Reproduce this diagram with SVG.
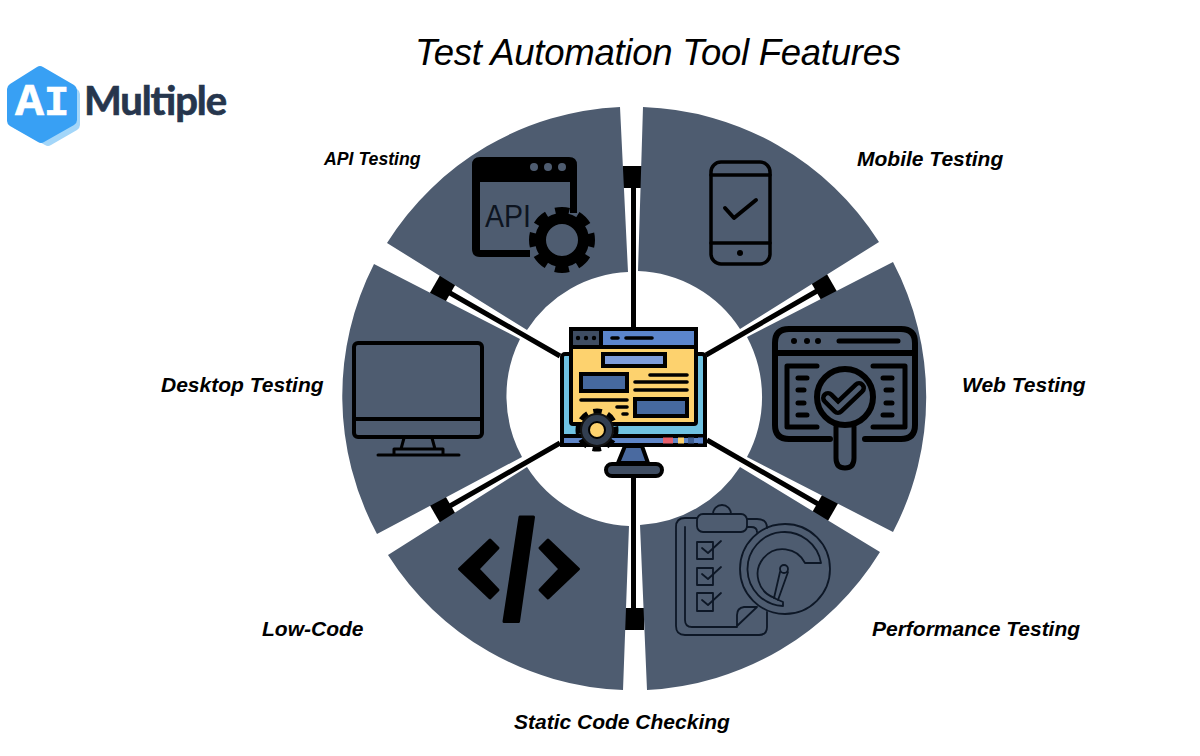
<svg xmlns="http://www.w3.org/2000/svg" width="1200" height="756" viewBox="0 0 1200 756">
<style>
.seg{fill:#4e5c70}
.lab{font-family:"Liberation Sans",Arial,sans-serif;font-weight:700;font-style:italic;font-size:21px;fill:#000}
.ic{fill:none;stroke:#000;stroke-linecap:round;stroke-linejoin:round}
.thin{fill:none;stroke:#0d1726;stroke-width:1.8;stroke-linecap:round;stroke-linejoin:round}
.spoke{stroke:#000;stroke-width:5;fill:none}
.k{fill:#000}
.kr{fill:#000;stroke:#000;stroke-width:3;stroke-linejoin:round}
.cl{fill:none;stroke:#000;stroke-width:3.6;stroke-linecap:round}
.cb{stroke:#000;stroke-width:4}
</style>
<rect width="1200" height="756" fill="#fff"/>
<text x="415" y="65" font-family="'Liberation Sans',Arial,sans-serif" font-style="italic" font-size="36.500" fill="#000" textLength="486">Test Automation Tool Features</text>

<g id="logo">
<path d="M40 68 L77 89 Q80 91 80 94 L80 125 Q80 128 77 130 L51 145 Q48 147 45 145 L14 128 Z" fill="#a3d6f9"/>
<path d="M37 67 Q40 65 43 67 L74 85 Q77 87 77 90 L77 120 Q77 123 74 125 L44 142 Q41 144 38 142 L10 126 Q7 124 7 121 L7 89 Q7 86 10 84 Z" fill="#38a0f4"/>
<text x="15" y="115" font-family="'Open Sans','Liberation Sans',sans-serif" font-weight="700" font-size="42" fill="#fff" stroke="#fff" stroke-width="0.6">A<tspan font-family="'Liberation Mono',monospace" font-size="42">I</tspan></text>
<text x="84" y="115" font-family="Lato,'Liberation Sans',sans-serif" font-weight="700" font-size="40" fill="#26364d" stroke="#26364d" stroke-width="0.7" textLength="143">Multiple</text>
</g>

<g id="connectors">
<path class="spoke" d="M633.500 188V330M633.500 476V610M824 287L706 355M443 289L560 356M443 510L560 443M825 508L707 440"/>
<rect class="k" x="622.500" y="166" width="20" height="22"/>
<rect class="k" x="625" y="608" width="19" height="22"/>
<rect class="k" x="-9" y="-11.500" width="18" height="23" transform="translate(824 287) rotate(-30)"/>
<rect class="k" x="-9" y="-11.500" width="18" height="23" transform="translate(442.500 289) rotate(30)"/>
<rect class="k" x="-9" y="-11.500" width="18" height="23" transform="translate(443 510) rotate(-30)"/>
<rect class="k" x="-9" y="-11.500" width="18" height="23" transform="translate(825 508) rotate(30)"/>
</g>

<g id="node-api">
<path class="seg" d="M620 107 A291 291 0 0 0 387 243 L527 330 A127 127 0 0 1 628 272 Z"/>
<path class="k" d="M480 157 H569 Q577 157 577 165 V213 L570 213 V182 H480 V250 H530 V257 H480 Q472 257 472 249 V165 Q472 157 480 157 Z"/>
<circle cx="534" cy="167" r="4" class="seg"/><circle cx="548" cy="167" r="4" class="seg"/><circle cx="562" cy="167" r="4" class="seg"/>
<text x="485" y="227" font-family="'Liberation Sans',sans-serif" font-size="32" fill="#0d1420" textLength="46" lengthAdjust="spacingAndGlyphs">API</text>
<circle cx="562" cy="240" r="21.500" fill="none" stroke="#000" stroke-width="11"/>
<circle cx="562" cy="240" r="29.500" fill="none" stroke="#000" stroke-width="7" stroke-dasharray="14 9.170" stroke-dashoffset="7"/>
<text class="lab" x="324" y="165" style="font-size:17.700px">API Testing</text>
</g>

<g id="node-mobile">
<path class="seg" d="M643 107 A291 291 0 0 1 879 242 L740 329 A127 127 0 0 0 638 271 Z"/>
<rect class="ic" x="711" y="162" width="59" height="102" rx="10" stroke-width="3.500"/>
<path class="ic" stroke-width="3.500" d="M711 175H770M711 243H770"/>
<circle class="k" cx="740" cy="253" r="3"/>
<path class="ic" stroke-width="4" d="M725 208L734 218L756 200"/>
<text class="lab" x="857" y="166">Mobile Testing</text>
</g>

<g id="node-web">
<path class="seg" d="M893 262 A291 291 0 0 1 893 532 L747 457 A127 127 0 0 0 747 337 Z"/>
<path class="ic" stroke-width="6" d="M830 439H789Q775 439 775 425V343Q775 329 789 329H901Q915 329 915 343V425Q915 439 901 439H865M775 353H915"/>
<circle class="k" cx="794" cy="341" r="3"/><circle class="k" cx="807" cy="341" r="3"/><circle class="k" cx="818" cy="341" r="3"/>
<path class="ic" stroke-width="5" d="M839 341H898M817 366H787V427H817M873 366H905V427H873M798 378H807M798 390H804M798 403H804M798 415H807M883 378H892M886 390H892M886 403H892M883 415H892"/>
<circle class="ic" cx="845" cy="397" r="28" stroke-width="6"/>
<path class="ic" stroke-width="14" d="M828 398L838 408L859 388"/>
<path d="M828 398L838 408L859 388" fill="none" stroke="#4e5c70" stroke-width="5" stroke-linecap="round" stroke-linejoin="round"/>
<path class="ic" stroke-width="5" d="M836 427V458Q836 468 845 468Q854 468 854 458V427"/>
<text class="lab" x="962" y="392">Web Testing</text>
</g>

<g id="node-performance">
<path class="seg" d="M640 525 A127 127 0 0 0 740 467 L880 552 A291 291 0 0 1 647 690 Z"/>
<path class="thin" d="M697 518H685Q676 518 676 527V626Q676 635 685 635H759Q767 635 767 627V612M747 519H757Q767 519 767 528M685 527V620Q685 627 692 627H737M747 527H751Q757 527 757 532"/>
<rect class="thin" x="697" y="514" width="50" height="18" rx="6"/>
<path class="thin" d="M713 514A9 9 0 0 1 731 514"/>
<path class="thin" d="M737 626V615Q737 608 744 607H757L737 626"/>
<rect class="thin" x="697" y="542" width="16" height="17"/><path class="thin" d="M702 548L708 553L721 541"/>
<rect class="thin" x="697" y="568" width="16" height="17"/><path class="thin" d="M702 574L708 579L721 567"/>
<rect class="thin" x="697" y="593" width="16" height="18"/><path class="thin" d="M702 600L708 605L721 593"/>
<circle class="thin" cx="785" cy="569" r="45"/>
<path class="thin" d="M821 563A37 37 0 1 0 783 606V602L774 598L775 598A25 25 0 1 1 805 563Z"/>
<circle class="thin" cx="784" cy="569" r="4"/>
<path class="thin" d="M780 572L774 598M788 572L778 600"/>
<text class="lab" x="872" y="636">Performance Testing</text>
</g>

<g id="node-static">
<path class="seg" d="M629 526 A127 127 0 0 1 527 467 L388 555 A291 291 0 0 0 623 690 Z"/>
<path class="kr" d="M459.500 569L490 540L498 548L478 569L498 590L490 598Z"/>
<path class="kr" d="M578.500 569L548 540L540 548L560 569L540 590L548 598Z"/>
<path class="kr" d="M520 517H533.500L518.500 621.500H504Z"/>
<text class="lab" x="514" y="729">Static Code Checking</text>
</g>

<g id="node-lowcode">
<text class="lab" x="262" y="636">Low-Code</text>
</g>

<g id="node-desktop">
<path class="seg" d="M374 264 A291 291 0 0 0 377 534 L522 457 A127 127 0 0 1 520 339 Z"/>
<rect class="ic" x="354" y="343" width="128" height="94" rx="4" stroke-width="4"/>
<path class="ic" stroke-width="4" d="M354 419H482"/>
<path class="ic" stroke-width="3" d="M404 438L401 449M432 438L435 449M394 454V449H443V454M378 455H459"/>
<text class="lab" x="161" y="392">Desktop Testing</text>
</g>

<g id="node-center">
<rect x="562" y="354" width="143" height="91" rx="3" fill="#6fc2e2" class="cb"/>
<rect x="562" y="436" width="143" height="9" fill="#5f86c8" class="cb"/>
<rect x="571" y="329" width="125" height="95" rx="2" fill="#fdd26e" class="cb"/>
<rect x="571" y="329" width="30" height="18" fill="#3f4d62" class="cb"/>
<rect x="601" y="329" width="95" height="18" fill="#5b85cc" class="cb"/>
<circle class="k" cx="578" cy="338" r="2.200"/><circle class="k" cx="586" cy="338" r="2.200"/><circle class="k" cx="594" cy="338" r="2.200"/>
<path class="cl" d="M612 338H618M626 338H652"/>
<rect x="603" y="354" width="62" height="12" fill="#7d9cdb" class="cb"/>
<rect x="581" y="374" width="46" height="17" fill="#46699f" class="cb"/>
<rect x="635" y="399" width="52" height="17" fill="#46699f" class="cb"/>
<path class="cl" d="M650 375H687M635 382H687M635 390H687M581 400H627M617 407H627M623 414H627"/>
<rect x="663" y="437.500" width="10" height="6" fill="#e8606d"/>
<rect x="678" y="437.500" width="6" height="6" fill="#fdd26e"/>
<rect x="688" y="437.500" width="6" height="6" fill="#3f5f93"/>
<rect x="698" y="437.500" width="5" height="6" fill="#5b85cc"/>
<path d="M625 446H642L648 463H618Z" fill="#4a6aa0" class="cb"/>
<rect x="606" y="464" width="56" height="12" rx="6" fill="#3f4d62" class="cb"/>
<circle cx="597" cy="430" r="18.500" fill="none" stroke="#000" stroke-width="6" stroke-dasharray="8.500 6.030" stroke-dashoffset="4.250"/>
<circle cx="597" cy="430" r="16" fill="#323e50" stroke="#111" stroke-width="2"/>
<circle cx="597" cy="430" r="8" fill="#fdd26e" stroke="#000" stroke-width="2"/>
</g>
</svg>
